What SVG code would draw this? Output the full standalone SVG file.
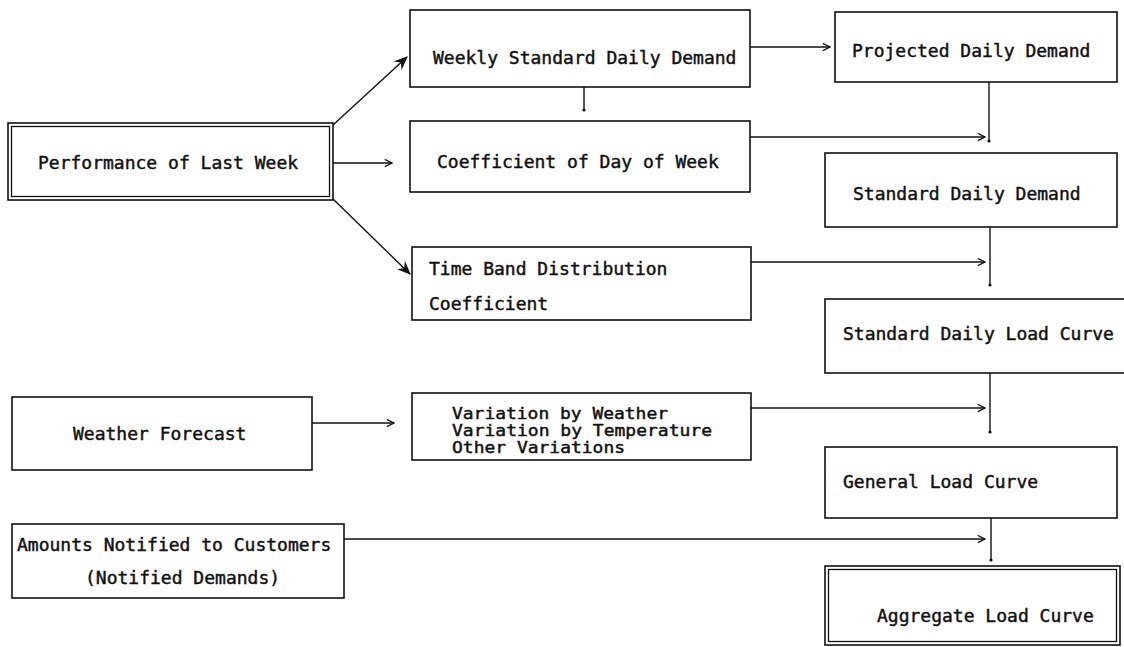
<svg xmlns="http://www.w3.org/2000/svg" width="1124" height="647" viewBox="0 0 1124 647">
  <defs>
    <style>
      .box { fill: #fff; stroke: #111; stroke-width: 1.6; }
      .dbl { fill: none; stroke: #111; stroke-width: 1.3; }
      .lbl { font-family: "DejaVu Sans Mono", "Liberation Mono", monospace; font-size: 18px; fill: #111; stroke: #111; stroke-width: 0.45; }
      .sm { font-size: 16px; }
      .wire { fill: none; stroke: #111; stroke-width: 1.4; }
    </style>
    <marker id="chev" viewBox="0 0 10 10" refX="9" refY="5" markerWidth="9" markerHeight="9" markerUnits="userSpaceOnUse" orient="auto">
      <path d="M1,1 L9,5 L1,9" fill="none" stroke="#111" stroke-width="1.4"/>
    </marker>
    <marker id="barb" viewBox="0 0 12 10" refX="11" refY="5" markerWidth="14" markerHeight="12" markerUnits="userSpaceOnUse" orient="auto">
      <path d="M0,0 L12,5 L0,10 L4,5 Z" fill="#111"/>
    </marker>
  </defs>

  <rect width="1124" height="647" fill="#fff"/>

  <!-- connectors -->
  <g id="connectors">
    <path class="wire" d="M333,125 L407,57" marker-end="url(#barb)"/>
    <path class="wire" d="M333,163 L392,163" marker-end="url(#chev)"/>
    <path class="wire" d="M333,199 L410,274" marker-end="url(#barb)"/>
    <path class="wire" d="M584,87 L584,110"/>
    <circle cx="584" cy="110" r="1.6" fill="#111"/>
    <path class="wire" d="M750,47 L830,47" marker-end="url(#chev)"/>
    <path class="wire" d="M750,137 L985,137" marker-end="url(#chev)"/>
    <path class="wire" d="M989,82 L989,141"/>
    <circle cx="989" cy="141" r="1.6" fill="#111"/>
    <path class="wire" d="M751,262 L985,262" marker-end="url(#chev)"/>
    <path class="wire" d="M990,227 L990,285"/>
    <circle cx="990" cy="285" r="1.6" fill="#111"/>
    <path class="wire" d="M312,423 L394,423" marker-end="url(#chev)"/>
    <path class="wire" d="M751,408 L985,408" marker-end="url(#chev)"/>
    <path class="wire" d="M990,373 L990,432"/>
    <circle cx="990" cy="432" r="1.6" fill="#111"/>
    <path class="wire" d="M344,539 L985,539" marker-end="url(#chev)"/>
    <path class="wire" d="M991,518 L991,560"/>
    <circle cx="991" cy="560" r="1.6" fill="#111"/>
  </g>

  <!-- source nodes -->
  <g id="performance">
    <rect class="box" x="8" y="123" width="325" height="77"/>
    <rect class="dbl" x="11.5" y="126.5" width="318" height="70"/>
    <text class="lbl" x="38" y="169">Performance of Last Week</text>
  </g>

  <g id="weather">
    <rect class="box" x="12" y="397" width="300" height="73"/>
    <text class="lbl" x="73" y="440">Weather Forecast</text>
  </g>

  <g id="notified">
    <rect class="box" x="12" y="524" width="332" height="74"/>
    <text class="lbl" x="17" y="551">Amounts Notified to Customers</text>
    <text class="lbl" x="85" y="584">(Notified Demands)</text>
  </g>

  <!-- intermediate nodes -->
  <g id="weekly">
    <rect class="box" x="410" y="10" width="340" height="77"/>
    <text class="lbl" x="433" y="64">Weekly Standard Daily Demand</text>
  </g>

  <g id="dayofweek">
    <rect class="box" x="410" y="121" width="340" height="71"/>
    <text class="lbl" x="437" y="168">Coefficient of Day of Week</text>
  </g>

  <g id="timeband">
    <rect class="box" x="412" y="247" width="339" height="73"/>
    <text class="lbl" x="429" y="275">Time Band Distribution</text>
    <text class="lbl" x="429" y="310">Coefficient</text>
  </g>

  <g id="variations">
    <rect class="box" x="412" y="393" width="339" height="67"/>
    <text class="lbl sm" x="452" y="419" textLength="216" lengthAdjust="spacingAndGlyphs">Variation by Weather</text>
    <text class="lbl sm" x="452" y="436" textLength="260" lengthAdjust="spacingAndGlyphs">Variation by Temperature</text>
    <text class="lbl sm" x="452" y="453" textLength="173" lengthAdjust="spacingAndGlyphs">Other Variations</text>
  </g>

  <!-- result chain -->
  <g id="projected">
    <rect class="box" x="835" y="12" width="282" height="70"/>
    <text class="lbl" x="852" y="57">Projected Daily Demand</text>
  </g>

  <g id="standarddemand">
    <rect class="box" x="825" y="153" width="292" height="74"/>
    <text class="lbl" x="853" y="200">Standard Daily Demand</text>
  </g>

  <g id="standardcurve">
    <rect class="box" x="825" y="299" width="300" height="74"/>
    <text class="lbl" x="843" y="340">Standard Daily Load Curve</text>
  </g>

  <g id="generalcurve">
    <rect class="box" x="825" y="447" width="292" height="71"/>
    <text class="lbl" x="843" y="488">General Load Curve</text>
  </g>

  <g id="aggregate">
    <rect class="box" x="825" y="566" width="295" height="79"/>
    <rect class="dbl" x="828.5" y="569.5" width="288" height="72"/>
    <text class="lbl" x="877" y="622">Aggregate Load Curve</text>
  </g>
</svg>
